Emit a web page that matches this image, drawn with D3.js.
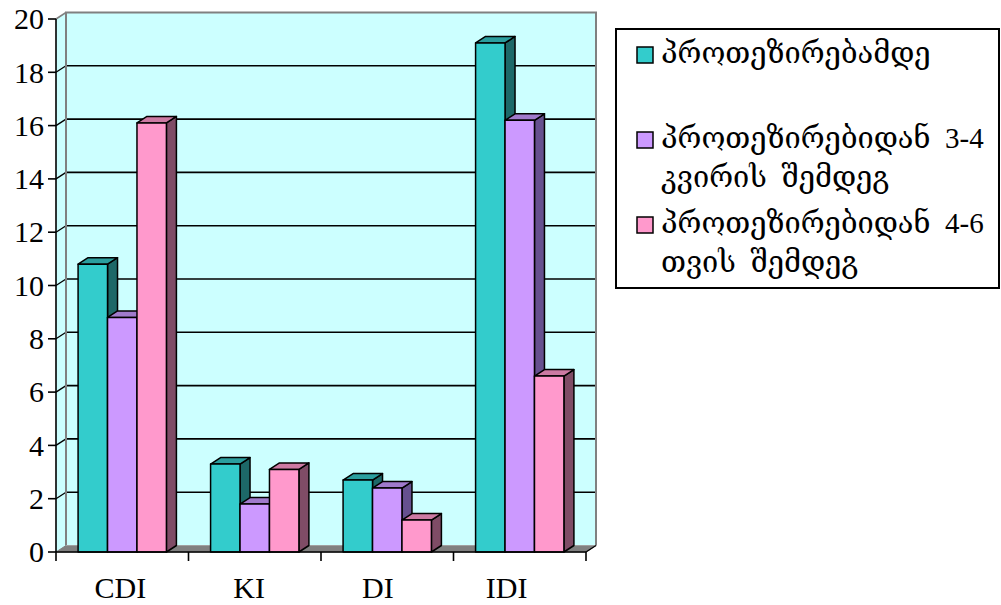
<!DOCTYPE html>
<html>
<head>
<meta charset="utf-8">
<script src="https://cdn.jsdelivr.net/npm/d3@7"></script>
<style>
  html, body { margin: 0; padding: 0; background: #ffffff; }
  svg { display: block; }
  text { font-family: "Liberation Serif", "DejaVu Serif", serif; fill: #000; }
</style>
</head>
<body>
<svg id="chart" width="1001" height="605"></svg>
<script>
// Categories (x axis) and the three measurement periods
const categories = ["CDI", "KI", "DI", "IDI"];
const seriesNames = [
  ["პროთეზირებამდე"],
  ["პროთეზირებიდან  3-4", "კვირის  შემდეგ"],
  ["პროთეზირებიდან  4-6", "თვის  შემდეგ"]
];
const beforeValues = [10.8, 3.3, 2.7, 19.1];
const weeksValues  = [8.8, 1.8, 2.4, 16.2];
const monthsValues = [16.1, 3.1, 1.2, 6.6];
const yTicks = [0, 2, 4, 6, 8, 10, 12, 14, 16, 18, 20];

const seriesValues = [beforeValues, weeksValues, monthsValues];
const colors = [
  { front: "#33CCCC", top: "#2A9E9E", side: "#1D6868" },
  { front: "#CC99FF", top: "#A07ACC", side: "#66508F" },
  { front: "#FF99CC", top: "#CC7AA3", side: "#7F4C66" }
];

const svg = d3.select("#chart");

// Oblique depth of the 3-D box
const DX = 10, DY = -6.5;
const plotL = 56, plotR = 586, plotB = 552, plotT = 19;

const y = d3.scaleLinear().domain([0, 20]).range([plotB, plotT]);
const x0 = d3.scaleBand().domain(categories).range([plotL, plotR]).padding(0);
const x1 = d3.scaleBand().domain(d3.range(3)).range([0, x0.bandwidth()])
  .paddingInner(0).paddingOuter(0.75);
const labelX = d3.scaleBand().domain(categories).range([plotL, plotR - 15]);

const poly = pts => pts.map(p => p.join(",")).join(" ");

// Back wall
svg.append("polygon")
  .attr("points", poly([[plotL + DX, y(20) + DY], [plotR + DX, y(20) + DY],
                        [plotR + DX, y(0) + DY], [plotL + DX, y(0) + DY]]))
  .attr("fill", "#CCFFFF");
// Side wall
svg.append("polygon")
  .attr("points", poly([[plotL, y(20)], [plotL + DX, y(20) + DY],
                        [plotL + DX, y(0) + DY], [plotL, y(0)]]))
  .attr("fill", "#CCFFFF");

// Gridlines on back wall and side wall
yTicks.filter(v => v > 0 && v < 20).forEach(v => {
  svg.append("line")
    .attr("x1", plotL + DX).attr("x2", plotR + DX)
    .attr("y1", y(v) + DY).attr("y2", y(v) + DY)
    .attr("stroke", "#000").attr("stroke-width", 1.6);
  svg.append("line")
    .attr("x1", plotL).attr("x2", plotL + DX)
    .attr("y1", y(v)).attr("y2", y(v) + DY)
    .attr("stroke", "#000").attr("stroke-width", 1.3);
});

// Wall outline
svg.append("polyline")
  .attr("points", poly([[plotL + DX, y(0) + DY], [plotL + DX, y(20) + DY],
                        [plotR + DX, y(20) + DY], [plotR + DX, y(0) + DY]]))
  .attr("fill", "none").attr("stroke", "#808080").attr("stroke-width", 2);
svg.append("line")
  .attr("x1", plotL).attr("y1", y(20)).attr("x2", plotL + DX).attr("y2", y(20) + DY)
  .attr("stroke", "#808080").attr("stroke-width", 1.5);

// Floor
svg.append("polygon")
  .attr("points", poly([[plotL, y(0)], [plotL + DX, y(0) + DY],
                        [plotR + DX, y(0) + DY], [plotR, y(0)]]))
  .attr("fill", "#808080").attr("stroke", "#808080").attr("stroke-width", 1);
svg.append("line")
  .attr("x1", plotL + DX).attr("x2", plotR + DX)
  .attr("y1", y(0) + DY).attr("y2", y(0) + DY)
  .attr("stroke", "#A0A0A0").attr("stroke-width", 1);
svg.append("line")
  .attr("x1", plotR).attr("y1", y(0)).attr("x2", plotR + DX).attr("y2", y(0) + DY)
  .attr("stroke", "#000").attr("stroke-width", 1.3);

// Bars: front, top and side faces, drawn left to right
const bars = svg.append("g");
categories.forEach((c, ci) => {
  seriesValues.forEach((vals, si) => {
    const v = vals[ci];
    const xa = x0(c) + x1(si), xb = xa + x1.bandwidth();
    const yt = y(v), yb = y(0);
    const col = colors[si];
    const g = bars.append("g")
      .attr("stroke", "#000").attr("stroke-width", 1.5).attr("stroke-linejoin", "round");
    g.append("polygon")
      .attr("points", poly([[xb, yt], [xb + DX, yt + DY], [xb + DX, yb + DY], [xb, yb]]))
      .attr("fill", col.side);
    g.append("polygon")
      .attr("points", poly([[xa, yt], [xa + DX, yt + DY], [xb + DX, yt + DY], [xb, yt]]))
      .attr("fill", col.top);
    g.append("rect")
      .attr("x", xa).attr("y", yt).attr("width", xb - xa).attr("height", yb - yt)
      .attr("fill", col.front);
  });
});

// Y axis (front edge)
svg.append("line")
  .attr("x1", plotL).attr("x2", plotL).attr("y1", y(20)).attr("y2", y(0))
  .attr("stroke", "#000").attr("stroke-width", 1.6);
yTicks.forEach(v => {
  svg.append("line")
    .attr("x1", plotL - 8).attr("x2", plotL).attr("y1", y(v)).attr("y2", y(v))
    .attr("stroke", "#000").attr("stroke-width", 1.6);
  svg.append("text")
    .attr("x", plotL - 12).attr("y", y(v))
    .attr("dy", "0.34em")
    .attr("text-anchor", "end")
    .attr("font-size", 30)
    .text(v);
});

// X axis (front edge)
svg.append("line")
  .attr("x1", plotL).attr("x2", plotR).attr("y1", y(0)).attr("y2", y(0))
  .attr("stroke", "#000").attr("stroke-width", 1.6);
const bounds = categories.map(c => x0(c)).concat([plotR]);
bounds.forEach(b => {
  svg.append("line")
    .attr("x1", b).attr("x2", b).attr("y1", y(0)).attr("y2", y(0) + 9)
    .attr("stroke", "#000").attr("stroke-width", 1.6);
});
categories.forEach(c => {
  svg.append("text")
    .attr("x", labelX(c) + labelX.bandwidth() / 2)
    .attr("y", 598)
    .attr("text-anchor", "middle")
    .attr("font-size", 30)
    .text(c);
});

// Legend
const lg = svg.append("g");
lg.append("rect")
  .attr("x", 616).attr("y", 29).attr("width", 383).attr("height", 259)
  .attr("fill", "#fff").attr("stroke", "#000").attr("stroke-width", 2);
const entryY = [63, 148, 233];
seriesNames.forEach((lines, i) => {
  lg.append("rect")
    .attr("x", 637).attr("y", entryY[i] - 16).attr("width", 16).attr("height", 16)
    .attr("fill", colors[i].front).attr("stroke", "#000").attr("stroke-width", 1.5);
  const t = lg.append("text")
    .attr("x", 661).attr("y", entryY[i])
    .attr("font-size", 29)
    .style("white-space", "pre");
  lines.forEach((ln, k) => {
    t.append("tspan").attr("x", 661).attr("dy", k === 0 ? 0 : 39).text(ln);
  });
});
</script>
</body>
</html>
